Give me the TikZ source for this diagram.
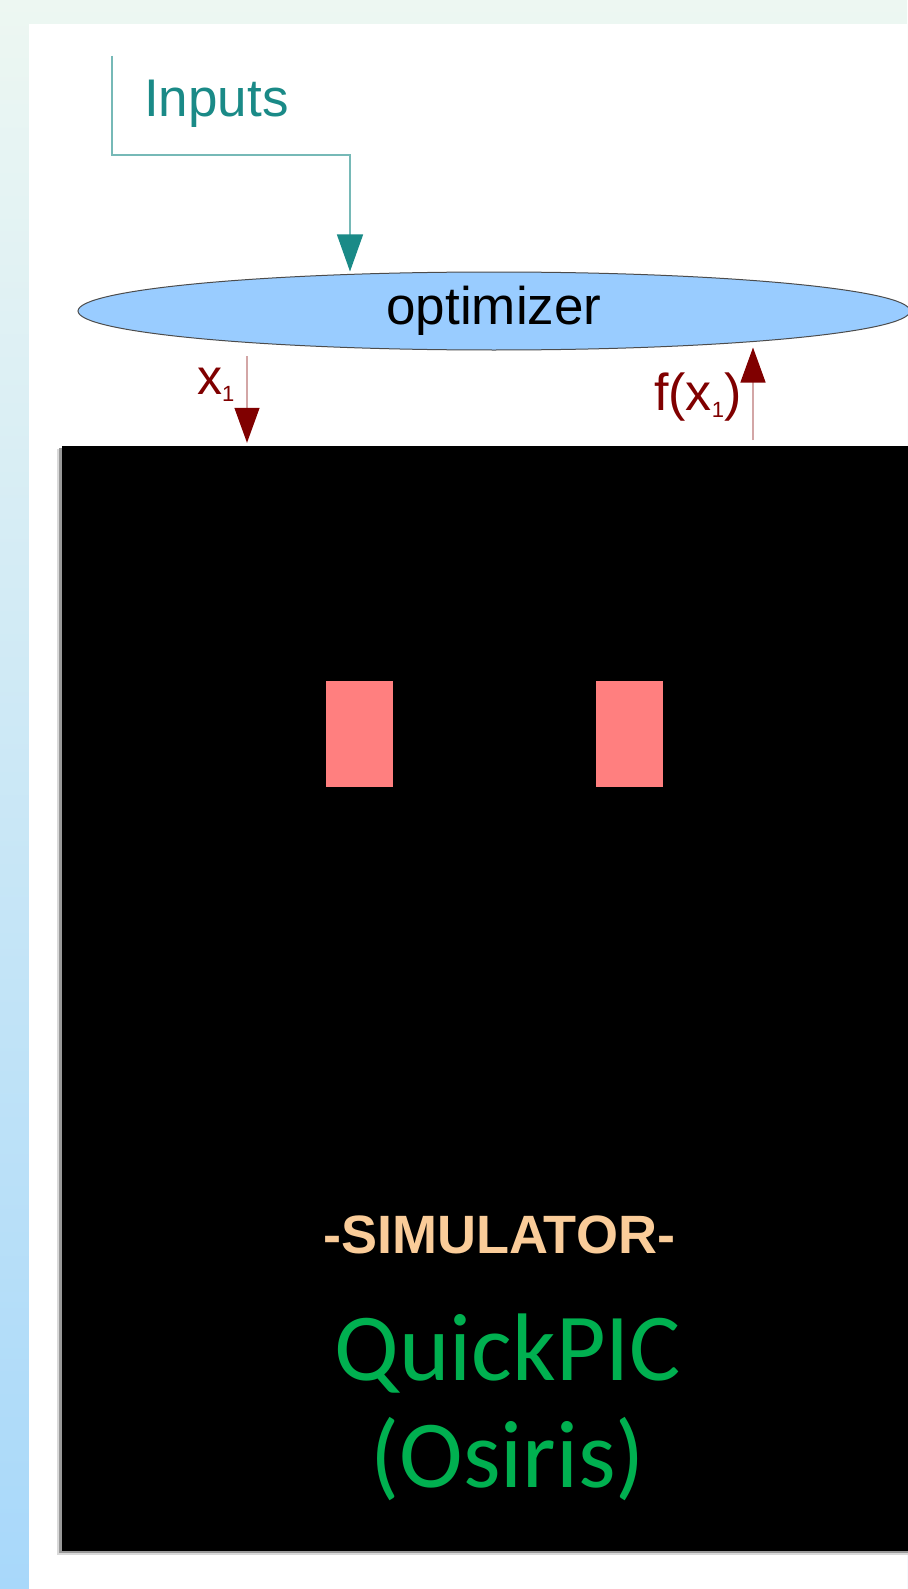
\documentclass[tikz,border=0pt]{standalone}
\usepackage{fontspec}
\setmainfont{Liberation Sans}
\newfontfamily\calibri{Carlito}
\usetikzlibrary{shapes.geometric,arrows.meta,positioning}
\definecolor{inputteal}{RGB}{26,138,135}
\definecolor{optblue}{RGB}{153,204,255}
\definecolor{argred}{RGB}{128,0,0}
\definecolor{pinkbox}{RGB}{255,127,127}
\definecolor{simtan}{RGB}{250,204,153}
\definecolor{codegreen}{RGB}{0,176,80}
\definecolor{bgtop}{RGB}{237,247,242}
\definecolor{bgbot}{RGB}{168,216,250}
\tikzset{
  optnode/.style={draw=black!70, line width=1pt, fill=optblue, ellipse,
    minimum width=832pt, minimum height=78pt, inner sep=0pt,
    font=\fontsize{53}{60}\selectfont},
  simbox/.style={fill=black, minimum width=858pt, minimum height=1105pt, inner sep=0pt},
  pulse/.style={fill=pinkbox, minimum width=67pt, minimum height=106pt, inner sep=0pt},
  inflow/.style={draw=inputteal!60, line width=1.3pt,
    -{Triangle[width=26pt,length=37pt,color=inputteal]}},
  feed/.style={draw=argred!35, line width=1.3pt,
    -{Triangle[width=25pt,length=35pt,color=argred]}},
  lbl/.style={inner sep=0pt, anchor=base west},
  code/.style={inner sep=0pt, anchor=base, text=codegreen,
    font=\calibri\fontsize{96}{107}\selectfont},
}
\newcommand{\subone}{\raisebox{-7pt}{\fontsize{22}{22}\selectfont 1}}

\begin{document}
\begin{tikzpicture}[x=1pt, y=-1pt]
  \useasboundingbox (0,0) rectangle (907,1589);
  % background
  \fill[top color=bgtop, bottom color=bgbot] (0,0) rectangle (907,1589);
  \fill[white] (29,24) rectangle (907,1589);

  % simulator block
  \fill[black!15] (57,449) rectangle (920,1555);
  \fill[black!40] (59,448) rectangle (920,1553);
  \node[simbox] (sim) at (491,998.5) {};
  \node[pulse] (p1) at (359.5,734) {};
  \node[pulse, right=203pt of p1] (p2) {};
  \node[anchor=base, inner sep=0pt, text=simtan,
        font=\bfseries\fontsize{54}{60}\selectfont] (simname) at (499,1253) {-SIMULATOR-};
  \node[code] (quick) at (508,1380) {QuickPIC};
  \node[code] (osiris) at ([yshift=-107pt]quick.base) {(Osiris)};

  % optimizer
  \node[optnode] (opt) at (494,311) {optimizer};
  \node[lbl, text=inputteal, font=\fontsize{53}{60}\selectfont] (inputs) at (144,117) {Inputs};
  \coordinate (src) at (112,56);
  \coordinate (drop) at (350,155);
  \draw[inflow] (src) |- (drop) -- (opt.north -| drop);

  % x1 down, f(x1) up
  \coordinate (xout) at (247,356);
  \draw[feed, shorten >=3pt] (xout) -- (sim.north -| xout);
  \node[lbl, text=argred, font=\fontsize{50}{56}\selectfont] (xlbl) at (197,394) {x\subone};
  \coordinate (fout) at (753,440);
  \draw[feed, shorten >=-3pt] (fout) -- (opt.south -| fout);
  \node[lbl, text=argred, font=\fontsize{52}{58}\selectfont] (flbl) at (654,410) {f(x\subone)};
\end{tikzpicture}
\end{document}
